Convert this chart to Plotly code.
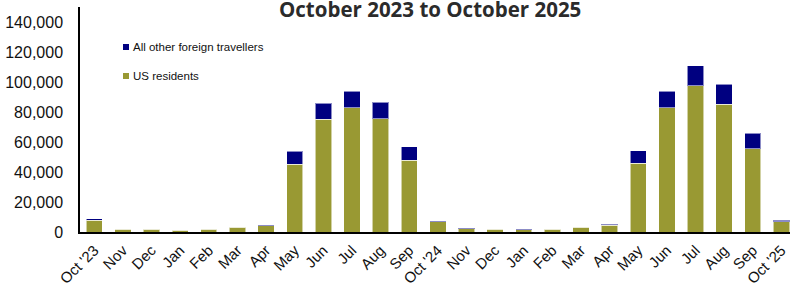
import plotly.graph_objects as go

months = ["Oct '23", "Nov", "Dec", "Jan", "Feb", "Mar", "Apr", "May", "Jun", "Jul", "Aug", "Sep",
          "Oct '24", "Nov", "Dec", "Jan", "Feb", "Mar", "Apr", "May", "Jun", "Jul", "Aug", "Sep",
          "Oct '25"]
us_residents = [7800, 2000, 1700, 1300, 1800, 3100, 4300, 45300, 75100, 82900, 75500, 47800,
                7000, 2300, 1800, 1600, 1800, 3200, 4500, 46000, 82900, 97500, 85300, 55500,
                6700]
other_foreign = [900, 200, 200, 150, 200, 300, 400, 8700, 10700, 11100, 11000, 8900,
                 500, 200, 200, 200, 200, 300, 800, 8200, 11100, 13200, 13100, 10300,
                 1300]
series_us = "US residents"
series_other = "All other foreign travellers"
title_text = "October 2023 to October 2025"
y_ticks = [0, 20000, 40000, 60000, 80000, 100000, 120000, 140000]

OLIVE = "#999933"
NAVY = "#000080"

W, H = 790, 287
ML, MR, MT, MB = 80, 0, 7, 55
PW, PH = W - ML - MR, H - MT - MB

def px(x):
    return (x - ML) / PW

def py(y):
    return (H - MB - y) / PH

x_idx = list(range(len(months)))

fig = go.Figure()
fig.add_trace(go.Bar(x=x_idx, y=us_residents, name=series_us, marker_color=OLIVE,
                     marker_line=dict(color="rgba(255,255,255,0.55)", width=1), showlegend=False))
fig.add_trace(go.Bar(x=x_idx, y=other_foreign, name=series_other, marker_color=NAVY,
                     marker_line=dict(color="rgba(255,255,255,0.55)", width=1), showlegend=False))

# manual legend
legend_items = [(series_other, NAVY, 47), (series_us, OLIVE, 76)]
for name, col, yc in legend_items:
    fig.add_shape(type="rect", xref="paper", yref="paper",
                  x0=px(123), x1=px(129), y0=py(yc + 3), y1=py(yc - 3),
                  fillcolor=col, line=dict(width=0))
    fig.add_annotation(text=name, xref="paper", yref="paper", x=px(131), y=py(yc),
                       xanchor="left", yanchor="middle", showarrow=False,
                       font=dict(family="Liberation Sans, Arial", size=11.5, color="#111111"))

fig.add_annotation(text="<b>" + title_text + "</b>", xref="paper", yref="paper",
                   x=px(430), y=py(9.5), xanchor="center", yanchor="middle", showarrow=False,
                   font=dict(family="Open Sans", size=20.5, color="#2b2b2b"))

fig.update_layout(
    width=W, height=H,
    margin=dict(l=ML, r=MR, t=MT, b=MB),
    barmode="stack", bargap=0.43,
    plot_bgcolor="white", paper_bgcolor="white",
    font=dict(family="Liberation Sans, Arial", color="#111111"),
    xaxis=dict(range=[-0.5, 24.3], tickmode="array", tickvals=x_idx, ticktext=months,
               tickangle=-45, tickfont=dict(size=15), showline=True, linecolor="black",
               linewidth=1.5, showgrid=False, zeroline=False, ticks="", automargin=False,
               ticklabelstandoff=2),
    yaxis=dict(range=[0, 150000], tickmode="array", tickvals=y_ticks,
               ticktext=[f"{v:,}" for v in y_ticks], tickfont=dict(size=16),
               showline=True, linecolor="black", linewidth=1.5, showgrid=False,
               zeroline=False, ticks="", ticklabelstandoff=12, automargin=False),
)

fig.write_html("out.html", config={"displayModeBar": False},
               post_script="document.body.style.margin='0';document.body.style.overflow='hidden';")
